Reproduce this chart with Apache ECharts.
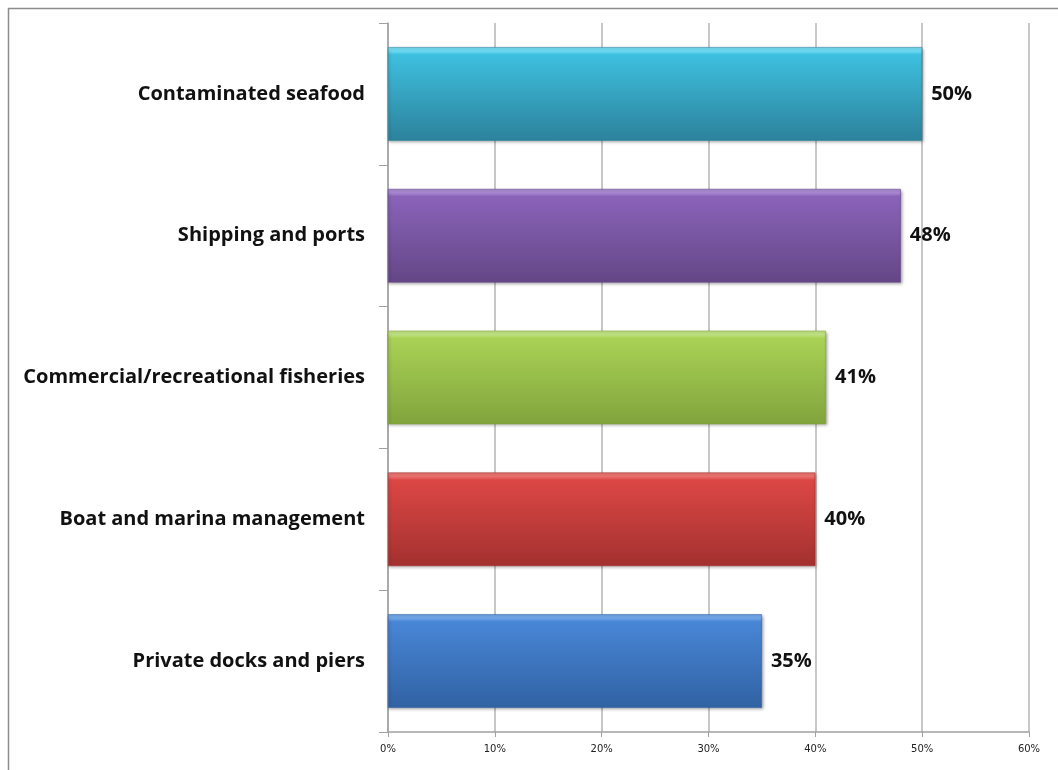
<!DOCTYPE html>
<html>
<head>
<meta charset="utf-8">
<script src="https://cdn.jsdelivr.net/npm/echarts@6/dist/echarts.min.js"></script>
<style>
  html, body { margin: 0; padding: 0; background: #ffffff; }
  #chart { width: 1058px; height: 770px; }
</style>
</head>
<body>
<div id="chart"></div>
<script>
// Categories listed top to bottom
const categories = [
  'Contaminated seafood',
  'Shipping and ports',
  'Commercial/recreational fisheries',
  'Boat and marina management',
  'Private docks and piers'
];
const shares = [50, 48, 41, 40, 35];
const tickValues = [0, 10, 20, 30, 40, 50, 60];

// Bevelled bar palettes: [edge highlight, top tone, bottom tone]
const palettes = [
  ['#72def4', '#3ec0e0', '#2d859f'],
  ['#ab8bd6', '#8a63b9', '#664889'],
  ['#c2e484', '#a9d255', '#84a63e'],
  ['#ec7572', '#dc4745', '#a63230'],
  ['#74a8ea', '#4886d6', '#3264a6']
];

function barFill(p) {
  return new echarts.graphic.LinearGradient(0, 0, 0, 1, [
    { offset: 0, color: p[0] },
    { offset: 0.04, color: p[0] },
    { offset: 0.08, color: p[1] },
    { offset: 0.95, color: p[2] },
    { offset: 1, color: p[2] }
  ]);
}

const chart = echarts.init(document.getElementById('chart'), null, { renderer: 'canvas' });

chart.setOption({
  animation: false,
  backgroundColor: '#ffffff',
  graphic: [{
    type: 'rect',
    left: 6, top: 6,
    shape: { width: 1070, height: 800 },
    style: { fill: 'none', stroke: '#8c8c8c', lineWidth: 1.5 },
    silent: true
  }],
  grid: { left: 388, right: 29, top: 23, bottom: 38, containLabel: false },
  xAxis: {
    type: 'value',
    min: 0, max: 60, interval: 10,
    axisLine: { show: true, lineStyle: { color: '#a0a0a0', width: 1.5 } },
    axisTick: { show: true, length: 5, lineStyle: { color: '#a0a0a0' } },
    splitLine: { show: true, lineStyle: { color: '#b4b4b4', width: 1.5 } },
    axisLabel: {
      margin: 12,
      fontFamily: 'DejaVu Sans',
      fontSize: 10,
      color: '#222',
      formatter: v => tickValues.includes(v) ? v + '%' : ''
    }
  },
  yAxis: {
    type: 'category',
    inverse: true,
    data: categories,
    axisLine: { show: true, lineStyle: { color: '#a0a0a0', width: 1.5 } },
    axisTick: { show: true, length: 9, lineStyle: { color: '#a0a0a0' } },
    axisLabel: {
      margin: 23,
      fontFamily: 'Open Sans',
      fontWeight: 'bold',
      fontSize: 20,
      color: '#111'
    }
  },
  series: [{
    type: 'bar',
    barWidth: '66%',
    data: shares.map((v, i) => ({
      value: v,
      itemStyle: {
        color: barFill(palettes[i]),
        borderColor: palettes[i][2],
        borderWidth: 0.6,
        shadowColor: 'rgba(0,0,0,0.35)',
        shadowBlur: 3,
        shadowOffsetX: 1,
        shadowOffsetY: 1.5
      }
    })),
    label: {
      show: true,
      position: 'right',
      distance: 9,
      fontFamily: 'Open Sans',
      fontWeight: 'bold',
      fontSize: 20,
      color: '#111',
      formatter: p => p.value + '%'
    }
  }]
});
</script>
</body>
</html>
